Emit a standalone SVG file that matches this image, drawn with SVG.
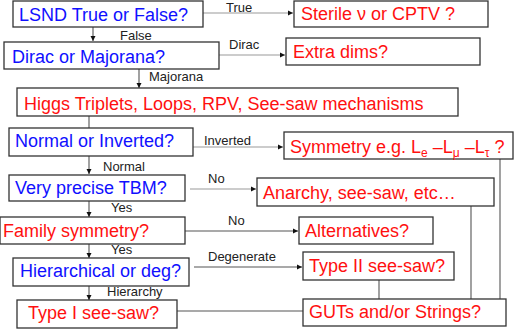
<svg xmlns="http://www.w3.org/2000/svg" width="514" height="331" viewBox="0 0 514 331">
<style>
.box{fill:#fff;stroke:#333;stroke-width:1.3}
.q{font-family:"Liberation Sans",Arial,sans-serif;font-size:18px;fill:#1010ff}
.a{font-family:"Liberation Sans",Arial,sans-serif;font-size:18px;fill:#ff1010}
.l{font-family:"Liberation Sans",Arial,sans-serif;font-size:13px;fill:#222}
.c{fill:none;stroke:#555;stroke-width:1.1}
.g{fill:none;stroke:#999;stroke-width:1.1}
</style>
<defs>
<marker id="ar" markerWidth="6" markerHeight="6" refX="5" refY="3" orient="auto" markerUnits="userSpaceOnUse">
<path d="M0,0.5 L5,3 L0,5.5 Z" fill="#111"/>
</marker>
</defs>
<g id="connectors">
<line class="g" x1="203" y1="13" x2="293" y2="13" marker-end="url(#ar)"/>
<line class="c" x1="93" y1="27" x2="93" y2="41" marker-end="url(#ar)"/>
<line class="g" x1="219" y1="55" x2="285" y2="55" marker-end="url(#ar)"/>
<line class="c" x1="139" y1="69" x2="139" y2="88" marker-end="url(#ar)"/>
<line class="c" x1="89" y1="116" x2="89" y2="128"/>
<line class="g" x1="193" y1="147" x2="283" y2="147" marker-end="url(#ar)"/>
<line class="c" x1="89" y1="156" x2="89" y2="174" marker-end="url(#ar)"/>
<line class="g" x1="190" y1="189" x2="256" y2="189" marker-end="url(#ar)"/>
<line class="c" x1="89" y1="201" x2="89" y2="217" marker-end="url(#ar)"/>
<line class="c" x1="185" y1="231" x2="298" y2="231" marker-end="url(#ar)"/>
<line class="c" x1="89" y1="244" x2="89" y2="258" marker-end="url(#ar)"/>
<line class="c" x1="194" y1="267" x2="302" y2="267" marker-end="url(#ar)"/>
<line class="c" x1="89" y1="286" x2="89" y2="300" marker-end="url(#ar)"/>
<line class="c" x1="177" y1="311" x2="303" y2="311"/>
<line class="c" x1="379" y1="280" x2="379" y2="299"/>
<line class="c" x1="471" y1="206" x2="471" y2="299"/>
<line class="c" x1="500" y1="159" x2="500" y2="299"/>
<text class="l" x="226" y="12">True</text>
<text class="l" x="120" y="40">False</text>
<text class="l" x="229" y="49">Dirac</text>
<text class="l" x="149" y="81">Majorana</text>
<text class="l" x="204" y="145">Inverted</text>
<text class="l" x="103" y="171">Normal</text>
<text class="l" x="208" y="183">No</text>
<text class="l" x="111" y="212">Yes</text>
<text class="l" x="228" y="225">No</text>
<text class="l" x="111" y="254">Yes</text>
<text class="l" x="208" y="261">Degenerate</text>
<text class="l" x="107" y="296">Hierarchy</text>
</g>
<g id="lsnd"><rect class="box" x="13" y="1" width="190" height="26"/><text class="q" x="19" y="21">LSND True or False?</text></g>
<g id="sterile"><rect class="box" x="294" y="1" width="194" height="26"/><text class="a" x="301" y="20">Sterile ν or CPTV ?</text></g>
<g id="dirac"><rect class="box" x="4" y="42" width="215" height="27"/><text class="q" x="12" y="63">Dirac or Majorana?</text></g>
<g id="extra"><rect class="box" x="286" y="38" width="194" height="27"/><text class="a" x="293" y="58">Extra dims?</text></g>
<g id="higgs"><rect class="box" x="17" y="88" width="441" height="28"/><text class="a" x="24" y="110">Higgs Triplets, Loops, RPV, See-saw mechanisms</text></g>
<g id="normal"><rect class="box" x="9" y="128" width="184" height="28"/><text class="q" x="15" y="147">Normal or Inverted?</text></g>
<g id="symmetry"><rect class="box" x="284" y="132" width="229" height="27"/><text class="a" x="290" y="153">Symmetry e.g. L<tspan font-size="12" dy="4">e</tspan><tspan dy="-4"> –L</tspan><tspan font-size="12" dy="4">μ</tspan><tspan dy="-4"> –L</tspan><tspan font-size="12" dy="4">τ</tspan><tspan dy="-4"> ?</tspan></text></g>
<g id="tbm"><rect class="box" x="9" y="175" width="176" height="26"/><text class="q" x="15" y="194">Very precise TBM?</text></g>
<g id="anarchy"><rect class="box" x="257" y="178" width="237" height="28"/><text class="a" x="263" y="199">Anarchy, see-saw, etc…</text></g>
<g id="family"><rect class="box" x="0" y="217" width="185" height="27"/><text class="a" x="3" y="237">Family symmetry?</text></g>
<g id="alternatives"><rect class="box" x="299" y="217" width="134" height="27"/><text class="a" x="305" y="237">Alternatives?</text></g>
<g id="hier"><rect class="box" x="13" y="258" width="176" height="28"/><text class="q" x="20" y="277">Hierarchical or deg?</text></g>
<g id="type2"><rect class="box" x="303" y="252" width="151" height="28"/><text class="a" x="309" y="272">Type II see-saw?</text></g>
<g id="type1"><rect class="box" x="17" y="300" width="160" height="28"/><text class="a" x="28" y="319">Type I see-saw?</text></g>
<g id="guts"><rect class="box" x="303" y="299" width="203" height="27"/><text class="a" x="309" y="318">GUTs and/or Strings?</text></g>
</svg>
